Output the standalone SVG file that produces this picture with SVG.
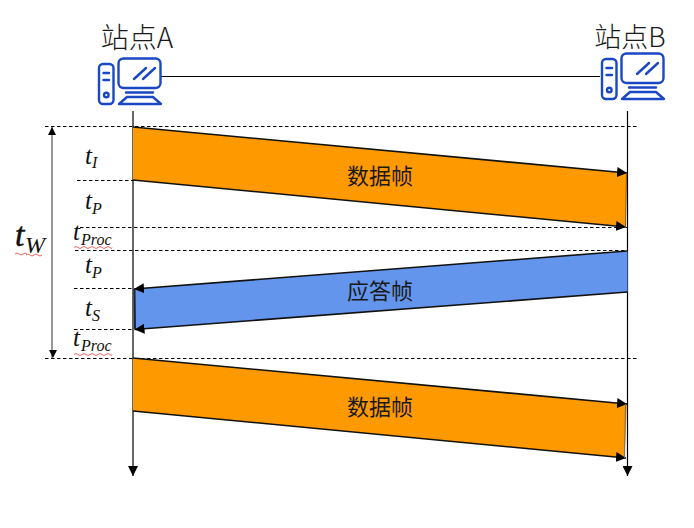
<svg xmlns="http://www.w3.org/2000/svg" width="694" height="528" viewBox="0 0 694 528">
<style>
.cn{font-family:"Noto Sans CJK SC","Noto Sans",sans-serif;fill:#1a1a1a}
.t{font-family:"Liberation Serif",serif;font-style:italic;fill:#111}
.dash{stroke:#000;stroke-width:1;stroke-dasharray:3.5 2.5;fill:none}
.ln{stroke:#000;stroke-width:1.2;fill:none}
.edge{stroke:#111;stroke-width:1.6;fill:none}
.squig{stroke:#e0403c;stroke-width:.8;fill:none}
.ic{stroke:#1a47c4;stroke-width:2.4;fill:none;stroke-linecap:round;stroke-linejoin:round}
</style>
<defs>
<marker id="ah" viewBox="0 0 10 10" refX="10" refY="5" markerWidth="10" markerHeight="10" markerUnits="userSpaceOnUse" orient="auto"><path d="M0 0L10 5L0 10Z" fill="#000"/></marker>
<g id="pc">
<rect x="0" y="6" width="14.500" height="40" rx="4" class="ic"/>
<path d="M4.500 15H10M4.500 22H10" class="ic"/>
<circle cx="7.300" cy="37" r="2.300" class="ic"/>
<rect x="19.500" y="0.500" width="42" height="29.500" rx="5" class="ic"/>
<path d="M35 21L47 10M44 21L56 10M27 34.500H54M20 46L28 39H54L62 46Z" class="ic"/>
</g>
</defs>
<g id="connectors">
<path class="ln" d="M161 76.500H600"/>
<path class="ln" d="M133 111V476" marker-end="url(#ah)"/>
<path class="ln" d="M627.500 111V476" marker-end="url(#ah)"/>
<path d="M52 127V358" stroke="#555" stroke-width="1.200" fill="none"/>
<path d="M52 127l-4 8h8zM53 358l-4 -8h8z" fill="#000"/>
<path class="dash" d="M45 126.500H638M77 180.500H133M80 227.500H627M75 250.500H627M74 288.500H133M74 329.500H133M45 358.500H638"/>
</g>
<g id="frame1">
<path d="M133 127L627 173L625.500 227L133 180Z" fill="#ff9900"/>
<path class="edge" d="M133 127L627 173" marker-end="url(#ah)"/>
<path class="edge" d="M133 180L626 227" marker-end="url(#ah)"/>
<path d="M626.500 173L625.500 227" stroke="#7a5a20" stroke-width="1" fill="none"/>
<text class="cn" x="380" y="184" font-size="22" text-anchor="middle">数据帧</text>
</g>
<g id="frame2">
<path d="M627.500 251L134 289L134.500 329.500L627.500 292Z" fill="#6495ed"/>
<path class="edge" d="M627.500 251L134 289" marker-end="url(#ah)"/>
<path class="edge" d="M627.500 292L134.500 329.500" marker-end="url(#ah)"/>
<path d="M134.500 289L135 329" stroke="#1c2438" stroke-width="2" fill="none"/>
<text class="cn" x="380" y="299" font-size="22" text-anchor="middle">应答帧</text>
</g>
<g id="frame3">
<path d="M133 358L627 404L624.500 458L133 411Z" fill="#ff9900"/>
<path class="edge" d="M133 358L627 404" marker-end="url(#ah)"/>
<path class="edge" d="M133 411L626 458" marker-end="url(#ah)"/>
<path d="M625.500 404L624.500 458" stroke="#7a6a50" stroke-width="1" fill="none"/>
<text class="cn" x="380" y="415" font-size="22" text-anchor="middle">数据帧</text>
</g>
<g id="siteA">
<text class="cn" x="137" y="48" font-size="28" text-anchor="middle" font-weight="300">站点A</text>
<use href="#pc" x="99" y="58"/>
</g>
<g id="siteB">
<text class="cn" x="630" y="47" font-size="27" text-anchor="middle" font-weight="300">站点B</text>
<use href="#pc" x="602" y="53"/>
</g>
<g id="labels">
<text class="t" x="85" y="164" font-size="25">t</text><text class="t" x="92" y="168" font-size="16">I</text>
<text class="t" x="85" y="209" font-size="25">t</text><text class="t" x="92" y="214" font-size="16">P</text>
<text class="t" x="73" y="240" font-size="25">t</text><text class="t" x="81" y="245" font-size="16">Proc</text>
<text class="t" x="85" y="273" font-size="25">t</text><text class="t" x="92" y="278" font-size="16">P</text>
<text class="t" x="85" y="316" font-size="25">t</text><text class="t" x="92" y="321" font-size="16">S</text>
<text class="t" x="73" y="346" font-size="25">t</text><text class="t" x="81" y="351" font-size="16">Proc</text>
<text class="t" x="15" y="246" font-size="34" stroke="#111" stroke-width=".5">t</text><text class="t" x="25" y="253" font-size="24">W</text>
<path class="squig" d="M74 247.500q2 -2 4 0t4 0t4 0t4 0t4 0t4 0t4 0t4 0t4 0t2 0M74 354.500q2 -2 4 0t4 0t4 0t4 0t4 0t4 0t4 0t4 0t4 0t2 0M15 254q2 -2 4 0t4 0t4 0M26 255q2 -2 4 0t4 0t4 0t4 0"/>
</g>
</svg>
